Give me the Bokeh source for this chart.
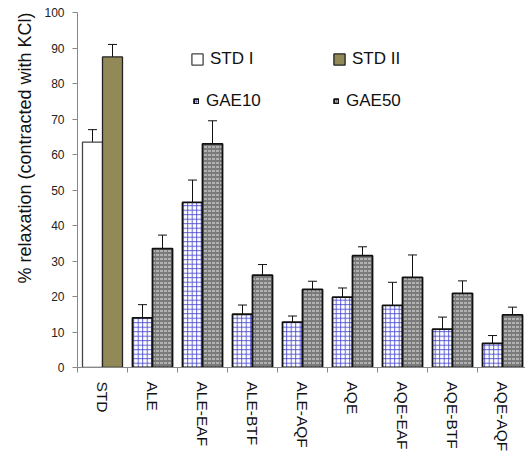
from bokeh.plotting import figure
from bokeh.models import (ColumnDataSource, Range1d, FixedTicker, Title,
                          Whisker, TeeHead, Legend, LegendItem)
from bokeh.embed import file_html
from bokeh.resources import INLINE

categories = ["STD", "ALE", "ALE-EAF", "ALE-BTF", "ALE-AQF", "AQE", "AQE-EAF", "AQE-BTF", "AQE-AQF"]
std_labels = ["STD I", "STD II"]
std_values = [63.5, 87.5]
std_errors = [3.5, 3.5]
gae_categories = categories[1:]
gae10_values = [14.0, 46.5, 15.0, 12.8, 19.8, 17.5, 10.8, 6.8]
gae10_errors = [3.7, 6.3, 2.6, 1.7, 2.6, 6.5, 3.4, 2.2]
gae50_values = [33.5, 63.0, 26.0, 22.0, 31.5, 25.4, 20.9, 14.8]
gae50_errors = [3.8, 6.5, 3.0, 2.3, 2.5, 6.3, 3.5, 2.2]
y_ticks = list(range(0, 101, 10))
y_title = "% relaxation (contracted with KCl)"

FONT = "Liberation Sans"
BAR_W = 0.4


def src(cats, vals, errs, offset):
    xs = [categories.index(c) + offset for c in cats]
    return ColumnDataSource(dict(
        x=xs, top=vals,
        upper=[v + e for v, e in zip(vals, errs)],
        lower=[v - e for v, e in zip(vals, errs)],
    ))


p = figure(width=525, height=454, x_range=Range1d(0, 8.96), y_range=Range1d(0, 100),
           output_backend="svg", toolbar_location=None,
           min_border_left=77, min_border_right=0, min_border_top=12, min_border_bottom=87)
p.outline_line_color = None
p.xgrid.grid_line_color = None
p.ygrid.grid_line_color = None
p.background_fill_color = "white"

s_std1 = src(["STD"], [std_values[0]], [std_errors[0]], 0.3)
s_std2 = src(["STD"], [std_values[1]], [std_errors[1]], 0.7)
s_g10 = src(gae_categories, gae10_values, gae10_errors, 0.3)
s_g50 = src(gae_categories, gae50_values, gae50_errors, 0.7)

r1 = p.vbar(x="x", top="top", width=BAR_W, source=s_std1, fill_color="white",
            line_color="#444444", line_width=1.3)
r2 = p.vbar(x="x", top="top", width=BAR_W, source=s_std2, fill_color="#918a58",
            line_color="#222222", line_width=1.3)
r3 = p.vbar(x="x", top="top", width=BAR_W, source=s_g10, fill_color="white",
            hatch_pattern="cross", hatch_color="#4a4ad0", hatch_scale=4.5, hatch_weight=0.9,
            line_color="#111111", line_width=1.8)
r4 = p.vbar(x="x", top="top", width=BAR_W, source=s_g50, fill_color="#7a7a7a",
            hatch_pattern="horizontal_dash", hatch_color="#e8e8e8", hatch_scale=4, hatch_weight=1,
            line_color="#111111", line_width=1.8)

for s in (s_std1, s_std2, s_g10, s_g50):
    w = Whisker(source=s, base="x", upper="upper", lower="lower", dimension="height",
                line_color="#111111", line_width=1,
                upper_head=TeeHead(size=9, line_color="#111111", line_width=1),
                lower_head=TeeHead(size=9, line_color="#111111", line_width=1))
    p.add_layout(w)

# axes
p.yaxis.ticker = FixedTicker(ticks=y_ticks)
p.yaxis.axis_line_color = "#888888"
p.yaxis.major_tick_line_color = "#888888"
p.yaxis.major_tick_out = 5
p.yaxis.major_tick_in = 0
p.yaxis.minor_tick_line_color = None
p.yaxis.major_label_text_font = FONT
p.yaxis.major_label_text_font_size = "12px"
p.yaxis.major_label_text_color = "#222222"
p.yaxis.major_label_standoff = 8

# y-axis title as a side title, aligned to the top end like the original
ytitle = Title(text=y_title, align="right", standoff=14,
               text_font=FONT, text_font_size="18px", text_font_style="normal",
               text_color="#111111")
p.add_layout(ytitle, "left")

p.xaxis.ticker = FixedTicker(ticks=[i + 0.5 for i in range(len(categories))],
                             minor_ticks=list(range(len(categories) + 1)))
p.xaxis.major_label_overrides = {i + 0.5: c for i, c in enumerate(categories)}
p.xaxis.major_label_orientation = "vertical"
p.xaxis.axis_line_color = "#888888"
p.xaxis.major_tick_line_color = None
p.xaxis.major_tick_out = 0
p.xaxis.major_tick_in = 0
p.xaxis.minor_tick_line_color = "#888888"
p.xaxis.minor_tick_out = 5
p.xaxis.minor_tick_in = 0
p.xaxis.major_label_text_font = FONT
p.xaxis.major_label_text_font_size = "15.5px"
p.xaxis.major_label_text_color = "#111111"
p.xaxis.major_label_standoff = 9

common = dict(orientation="horizontal", spacing=0, padding=0, margin=0,
              border_line_color=None, background_fill_alpha=0,
              label_text_font=FONT, label_text_font_size="17px", label_text_color="#111111")

leg1 = Legend(items=[LegendItem(label=std_labels[0], renderers=[r1]),
                     LegendItem(label=std_labels[1], renderers=[r2])],
              location=(113, 298), glyph_width=14, glyph_height=14, label_height=14,
              label_standoff=6, label_width=122, label_text_baseline="alphabetic", **common)
leg2 = Legend(items=[LegendItem(label="GAE10", renderers=[r3]),
                     LegendItem(label="GAE50", renderers=[r4])],
              location=(116, 256), glyph_width=6, glyph_height=6, label_height=6,
              label_standoff=7, label_width=127, **common)
p.add_layout(leg1, "center")
p.add_layout(leg2, "center")

open("out.html", "w").write(file_html(p, INLINE))
